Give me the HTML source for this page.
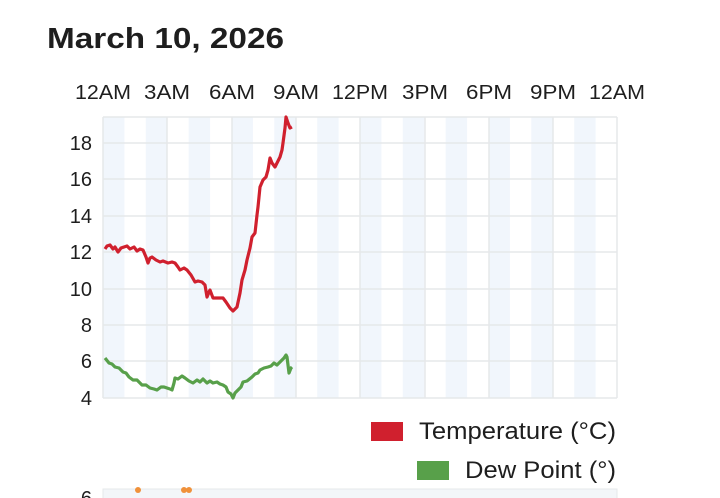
<!DOCTYPE html>
<html><head><meta charset="utf-8"><style>
html,body{margin:0;padding:0;background:#fff;width:720px;height:498px;overflow:hidden}
text{font-family:"Liberation Sans",sans-serif;fill:#1e1e1e}
</style></head><body>
<svg width="720" height="498" viewBox="0 0 720 498" xmlns="http://www.w3.org/2000/svg">
<text x="47" y="48" font-size="29" font-weight="bold" textLength="237" lengthAdjust="spacingAndGlyphs">March 10, 2026</text>
<g font-size="20" text-anchor="middle">
<text x="103" y="99" textLength="56" lengthAdjust="spacingAndGlyphs">12AM</text>
<text x="167" y="99" textLength="46" lengthAdjust="spacingAndGlyphs">3AM</text>
<text x="232" y="99" textLength="46" lengthAdjust="spacingAndGlyphs">6AM</text>
<text x="296" y="99" textLength="46" lengthAdjust="spacingAndGlyphs">9AM</text>
<text x="360" y="99" textLength="56" lengthAdjust="spacingAndGlyphs">12PM</text>
<text x="425" y="99" textLength="46" lengthAdjust="spacingAndGlyphs">3PM</text>
<text x="489" y="99" textLength="46" lengthAdjust="spacingAndGlyphs">6PM</text>
<text x="553" y="99" textLength="46" lengthAdjust="spacingAndGlyphs">9PM</text>
<text x="617" y="99" textLength="56" lengthAdjust="spacingAndGlyphs">12AM</text>
</g>
<g fill="#f1f6fc">
<rect x="103" y="117" width="21.4" height="281"/>
<rect x="145.8" y="117" width="21.4" height="281"/>
<rect x="188.7" y="117" width="21.4" height="281"/>
<rect x="231.5" y="117" width="21.4" height="281"/>
<rect x="274.3" y="117" width="21.4" height="281"/>
<rect x="317.2" y="117" width="21.4" height="281"/>
<rect x="360" y="117" width="21.4" height="281"/>
<rect x="402.8" y="117" width="21.4" height="281"/>
<rect x="445.7" y="117" width="21.4" height="281"/>
<rect x="488.5" y="117" width="21.4" height="281"/>
<rect x="531.3" y="117" width="21.4" height="281"/>
<rect x="574.2" y="117" width="21.4" height="281"/>
</g>
<g stroke="#e6e8ea" stroke-width="1.5">
<line x1="103" y1="117" x2="617" y2="117"/>
<line x1="103" y1="143" x2="617" y2="143"/>
<line x1="103" y1="179" x2="617" y2="179"/>
<line x1="103" y1="216" x2="617" y2="216"/>
<line x1="103" y1="252" x2="617" y2="252"/>
<line x1="103" y1="289" x2="617" y2="289"/>
<line x1="103" y1="325" x2="617" y2="325"/>
<line x1="103" y1="361" x2="617" y2="361"/>
<line x1="103" y1="398" x2="617" y2="398"/>
<line x1="103" y1="117" x2="103" y2="398"/>
<line x1="167" y1="117" x2="167" y2="398"/>
<line x1="232" y1="117" x2="232" y2="398"/>
<line x1="296" y1="117" x2="296" y2="398"/>
<line x1="360" y1="117" x2="360" y2="398"/>
<line x1="425" y1="117" x2="425" y2="398"/>
<line x1="489" y1="117" x2="489" y2="398"/>
<line x1="553" y1="117" x2="553" y2="398"/>
<line x1="617" y1="117" x2="617" y2="398"/>
</g>
<g font-size="20" text-anchor="end">
<text x="92" y="150">18</text>
<text x="92" y="186">16</text>
<text x="92" y="223">14</text>
<text x="92" y="259">12</text>
<text x="92" y="296">10</text>
<text x="92" y="332">8</text>
<text x="92" y="368">6</text>
<text x="92" y="405">4</text>
</g>
<polyline fill="none" stroke="#d0202e" stroke-width="3.2" stroke-linejoin="round" points="105,249 107,246 110,245 113,249 115,247 118,252 121,248 124,247 127,246 130,249 134,247 137,251 140,249 143,250 146,257 148,263 150,258 152,257 156,260 160,262 163,261 168,263 172,262 175,263 178,267 180,270 184,268 187,270 191,275 195,282 198,281 202,282 205,285 207,297 209,292 210,290 213,298 218,298 223,298 226,302 230,308 233,311 237,307 240,293 242,280 245,270 247,260 250,248 252,237 255,233 257,215 258,207 260,187 263,180 266,177 268,170 270,158 272,163 275,167 278,161 280,157 282,150 283,143 285,128 286,117 288,123 290,128 292,127"/>
<polyline fill="none" stroke="#58a04a" stroke-width="3.2" stroke-linejoin="round" points="105,358 109,363 112,364 115,367 119,368 123,372 126,373 129,377 133,380 137,380 142,385 146,385 150,388 154,389 157,390 161,387 164,387 167,388 170,389 172,390 174,383 175,378 178,379 182,376 185,378 189,381 193,383 197,380 200,382 203,379 207,383 210,381 213,383 217,382 220,384 223,385 226,387 228,392 231,394 233,398 235,393 238,390 241,387 243,382 247,381 252,377 255,374 258,373 260,370 264,368 268,367 271,366 274,363 277,365 280,362 282,360 284,358 286,355 287,357 288,365 289,373 291,368 292,367"/>
<rect x="371" y="422" width="32" height="19" fill="#d0202e"/>
<text x="419" y="439" font-size="24" textLength="197" lengthAdjust="spacingAndGlyphs">Temperature (°C)</text>
<rect x="417" y="461" width="32" height="19" fill="#58a04a"/>
<text x="465" y="478" font-size="24" textLength="151" lengthAdjust="spacingAndGlyphs">Dew Point (°)</text>
<rect x="103" y="489" width="514" height="10" fill="#f3f6f9" stroke="#e6e8ea"/>
<text x="92" y="505" font-size="20" text-anchor="end">6</text>
<g fill="#f0913a"><circle cx="138" cy="490" r="3"/><circle cx="184" cy="490" r="3"/><circle cx="189" cy="490" r="3"/></g>
</svg>
</body></html>
